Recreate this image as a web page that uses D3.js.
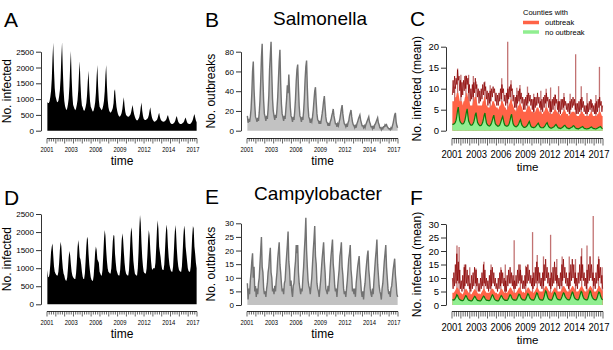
<!DOCTYPE html>
<html><head><meta charset="utf-8">
<script src="https://cdn.jsdelivr.net/npm/d3@7"></script>
<style>body{margin:0;background:#fff}svg{display:block}text{font-family:"Liberation Sans",Arial,Helvetica,sans-serif;fill:#000}</style>
</head><body><svg id="c" width="613" height="350"></svg>
<script>
// ---------- data ----------
const startYear = 2001, endYear = 2018;
const tickYears = [2001, 2003.76, 2006.52, 2009.28, 2012.03, 2014.79, 2017.55];
const tickLabels = ["2001", "2003", "2006", "2009", "2012", "2014", "2017"];
const titles = ["Salmonella", "Campylobacter"];
const panelLetters = ["A", "B", "C", "D", "E", "F"];
const legendTitle = "Counties with";
const legendLabels = ["outbreak", "no outbreak"];

// monthly values, Jan 2001 .. Dec 2017
const salmInfected = [
 900,880,880,930,1070,1260,1640,2300,2780,1920,1350,1100,
 1000,920,900,950,1090,1280,1660,2330,2800,1950,1300,950,
 780,700,650,710,840,1020,1400,2050,2520,1680,1120,820,
 750,690,650,700,810,960,1270,1810,2200,1500,1040,800,
 740,660,620,660,750,880,1130,1580,1900,1320,940,760,
 700,640,600,650,750,900,1190,1710,2080,1410,970,760,
 720,680,650,700,800,950,1240,1760,2080,1420,980,750,
 640,590,570,600,650,720,870,1250,1310,1000,760,620,
 530,470,440,460,500,560,690,900,1055,780,590,500,
 470,450,440,450,480,510,590,720,810,640,520,440,
 380,340,320,340,380,430,550,750,890,640,470,380,
 350,340,340,360,380,420,500,640,740,560,440,360,
 320,290,285,300,320,340,400,500,570,440,360,320,
 300,290,285,290,310,330,370,450,500,400,330,260,
 230,215,210,220,240,270,320,410,465,360,280,240,
 220,215,210,220,240,260,300,370,420,340,270,230,
 220,215,210,230,260,300,360,460,530,420,320,270];

const salmOutbreaks = [
 15,8,12,9,14,22,38,60,70,42,26,14,
 12,9,13,10,18,30,50,74,88,52,30,17,
 14,10,15,12,22,36,62,76,90,58,32,20,
 15,11,16,13,22,34,52,70,82,48,27,17,
 14,10,15,12,22,32,46,38,57,40,24,15,
 13,9,14,11,20,32,50,62,67,44,25,15,
 13,9,14,11,20,33,52,65,71,44,24,14,
 12,8,11,9,14,21,31,40,44,29,17,11,
 10,7,10,7,12,17,23,30,35,24,14,9,
 8,5,8,5,9,11,15,18,22,15,11,7,
 7,4,7,5,9,12,17,22,26,17,11,7,
 6,4,7,4,8,10,15,18,21,14,9,6,
 5,3,6,3,7,9,12,14,16,11,8,5,
 5,3,5,3,6,8,10,12,14,9,7,4,
 4,2,5,2,6,7,9,11,13,8,6,3,
 3,1,3,2,4,4,6,5,6,4,3,2,
 2,1,3,2,5,8,12,16,18,9,5,3];

const salmOutbreakMean = [
 7,7,7,7,8,8,9,9,9,8,7,7,
 7,7,6,7,7,8,8,9,9,8,7,7,
 6,6,6,6,7,7,8,8,8,7,6,6,
 6,6,6,6,6,7,7,8,8,7,6,6,
 5.5,5.5,5.5,5.5,6,6,7,7,7,6.5,6,5.5,
 5.5,5.5,5,5.5,6,6,7,7,7,6.5,6,5.5,
 5.5,5,5,5.5,6,6.5,7,7.5,7.5,6.5,6,5.5,
 5,5,4.5,5,5.5,6,6,6.5,6.5,6,5.5,5,
 4.5,4.5,4.5,4.5,5,5.5,5.5,6,6,5.5,5,4.5,
 4.5,4.5,4,4.5,4.5,5,5.5,5.5,5.5,5,4.5,4.5,
 4.5,4,4,4.5,4.5,5,5.5,5.5,5.5,5,4.5,4.5,
 4,4,4,4,4.5,4.5,5,5,5,4.5,4.5,4,
 4,4,3.5,4,4,4.5,4.5,5,5,4.5,4,4,
 4,3.5,3.5,4,4,4.5,4.5,4.5,4.5,4.5,4,4,
 3.5,3.5,3.5,3.5,4,4,4.5,4.5,4.5,4,4,3.5,
 3.5,3.5,3.5,3.5,3.5,4,4,4.5,4.5,4,3.5,3.5,
 3.5,3.5,3.5,3.5,4,4,4.5,4.5,4.5,4,3.5,3.5];

const salmOutbreakLine = [
 8.5,12,9,13,10,12.5,11,14.5,12,13,9.5,12,
 8,11.5,8.5,12,9.5,13,10,13,11,12.5,9,11,
 7,10,7.5,11,8,11.5,9,12.5,10,11,8,10,
 6.5,9.5,7,10,7.5,11,8.5,11.5,9.5,10.5,7.5,9.5,
 6,9,6.5,9.5,7,10,8,10.5,9,10,7,9,
 6,8.5,6,9,7,10,7.5,11,9,10,7,8.5,
 6,9,6.5,10,7.5,10.5,8,11,9.5,10,7,8.5,
 5.5,8,5.5,8.5,6.5,9.5,7,10,7.5,9,6.5,8,
 5,7.5,5,8,6,8.5,6.5,9,7,8.5,6,7.5,
 5,7.5,4.5,8,5.5,8,6,9,6.5,8,5.5,7,
 5,7.5,4.5,8,5.5,8.5,6.5,9,7,8,5.5,7.5,
 4.5,7,4.5,7.5,5,8,6,8.5,6.5,7.5,5,7,
 4.5,7,4,7.5,5,7.5,5.5,8,6,7,5,6.5,
 4.5,6.5,4,7,5,7.5,5.5,8,6,7.5,5,6.5,
 4,6.5,4,7,4.5,7.5,5,8,5.5,7,4.5,6,
 4,6,4,6.5,4.5,7,5,7.5,5.5,6.5,4.5,6,
 4,6.5,4,7,4.5,7.5,5.5,8,6,7,4.5,6];

const salmNoOutbreak = [
 1.6,1.5,1.6,1.7,2.0,2.5,3.5,4.8,5.6,3.8,2.4,2.0,
 1.8,1.6,1.6,1.7,2.0,2.5,3.4,4.5,5.2,3.6,2.3,1.9,
 1.5,1.3,1.3,1.4,1.7,2.1,2.9,3.8,4.3,3.0,2.0,1.6,
 1.4,1.2,1.2,1.3,1.6,2.0,2.8,3.7,4.2,2.9,1.9,1.5,
 1.3,1.2,1.1,1.2,1.5,1.9,2.5,3.2,3.7,2.6,1.7,1.4,
 1.3,1.1,1.1,1.2,1.4,1.8,2.4,3.0,3.4,2.5,1.7,1.3,
 1.2,1.1,1.1,1.2,1.4,1.8,2.5,3.4,3.9,2.7,1.7,1.3,
 1.1,1.0,0.9,1.0,1.2,1.4,1.8,2.3,2.6,1.9,1.3,1.1,
 0.9,0.8,0.8,0.9,1.0,1.2,1.5,1.9,2.2,1.6,1.1,0.9,
 0.8,0.8,0.7,0.8,0.9,1.1,1.3,1.6,1.8,1.4,1.0,0.8,
 0.7,0.7,0.7,0.7,0.9,1.1,1.4,1.7,1.9,1.4,1.0,0.8,
 0.7,0.6,0.6,0.7,0.8,0.9,1.1,1.3,1.5,1.2,0.9,0.7,
 0.6,0.6,0.5,0.6,0.7,0.8,1.0,1.2,1.3,1.0,0.8,0.6,
 0.6,0.5,0.5,0.6,0.7,0.8,0.9,1.1,1.2,1.0,0.7,0.6,
 0.5,0.5,0.4,0.5,0.6,0.7,0.8,0.9,1.0,0.8,0.6,0.5,
 0.5,0.4,0.4,0.5,0.5,0.6,0.7,0.8,0.9,0.7,0.6,0.5,
 0.5,0.4,0.4,0.5,0.6,0.7,0.8,0.9,1.0,0.8,0.6,0.5];

const salmSpikes = [[2001.3,10.5],[2001.63,14.8],[2002.0,13.3],[2002.57,13.2],[2002.87,13.3],[2003.4,13.0],[2003.7,11.7],[2004.7,11.7],[2005.3,10.8],[2006.6,12.5],[2007.27,21.2],[2007.65,12.0],[2008.3,10.2],[2008.65,10.9],[2009.5,10.5],[2010.2,8.8],[2011.0,9.5],[2011.6,10.0],[2012.1,10.3],[2012.6,8.7],[2013.0,10.6],[2013.6,9.0],[2014.3,8.8],[2014.92,18.2],[2015.55,10.6],[2016.2,9.0],[2016.7,7.3],[2017.2,8.5],[2017.6,15.2]];

const campInfected = [
 950,760,750,850,1100,1450,1600,1680,1350,1050,900,850,
 820,800,800,900,1150,1500,1735,1600,1250,1000,850,800,
 700,660,650,750,1000,1300,1475,1350,1100,900,800,750,
 720,700,700,850,1150,1550,1780,1600,1300,1250,1100,900,
 760,700,700,850,1200,1600,1870,1800,1400,1100,900,750,
 680,650,650,800,1100,1450,1600,1500,1250,1200,1150,900,
 850,800,800,950,1350,1800,2057,1900,1500,1200,1000,900,
 880,850,850,1000,1350,1750,1920,1900,1400,1150,950,880,
 820,800,800,950,1300,1750,1965,1800,1450,1150,950,850,
 820,800,800,950,1350,1850,2130,2000,1550,1200,1000,850,
 820,800,800,1000,1450,2100,2470,2250,1700,1300,1050,900,
 870,850,850,1000,1350,1800,2057,1900,1500,1200,1000,950,
 1000,1000,1000,1150,1550,2050,2330,2100,1600,1450,1300,1100,
 980,950,950,1100,1500,1950,2210,2050,1600,1300,1100,1000,
 930,900,900,1050,1450,1900,2195,2000,1550,1250,1050,950,
 920,900,900,1050,1450,1900,2180,2050,1600,1400,1200,1000,
 920,900,900,1050,1450,1900,2170,2100,1600,1400,1150,1000];

const campOutbreaks = [
 8,2,6,4,9,12,16,19,10,14,5,7,
 3,6,4,8,10,15,20,25,14,12,6,4,
 5,3,6,8,12,14,18,21,12,10,5,6,
 4,7,5,9,12,17,20,23,15,12,8,5,
 6,4,8,9,14,18,22,27,16,13,7,9,
 5,3,7,8,13,16,22,19,22,12,8,6,
 4,6,5,10,14,20,25,32,20,14,9,7,
 6,4,7,10,15,20,24,29,18,15,8,6,
 5,3,6,9,13,17,20,23,16,12,6,5,
 4,7,5,9,14,18,21,24,15,12,7,5,
 6,3,7,10,13,18,20,23,14,11,6,4,
 5,3,6,9,13,17,19,22,13,10,5,6,
 4,6,3,8,11,14,16,18,12,9,5,3,
 5,2,6,8,12,15,18,20,13,10,6,4,
 3,6,4,9,13,17,20,24,15,11,7,5,
 4,2,6,8,12,16,19,22,14,10,6,4,
 5,3,6,7,10,13,15,17,11,8,4,3];

const campOutbreakMean = [
 4.5,4.5,4.5,5,5.5,6,6.5,6.5,6,5.5,5,4.5,
 4.5,4,4,4.5,5,5.5,6,6,5.5,5,4.5,4.5,
 4,4,4,4.5,5,5.5,6,5.5,5.5,5,4.5,4,
 4.5,4,4,4.5,5,5.5,6,6,5.5,5,4.5,4.5,
 4.5,4.5,4.5,5,5.5,6,6,6,5.5,5,4.5,4.5,
 4.5,4,4,4.5,5,5.5,6,6,5.5,5,4.5,4.5,
 4.5,4.5,4.5,5,5.5,6,6.5,6.5,6,5.5,5,4.5,
 4.5,4.5,4.5,5,5.5,6,6.5,6.5,6,5.5,5,4.5,
 5,4.5,4.5,5,5.5,6,6.5,6.5,6,5.5,5,5,
 5,4.5,4.5,5,5.5,6,6.5,6.5,6,5.5,5,5,
 5,5,5,5.5,6,6.5,7,7,6.5,6,5.5,5,
 5,4.5,4.5,5,5.5,6,6.5,6.5,6,5.5,5,5,
 5,5,5,5.5,6,6.5,7,7,6.5,6,5.5,5,
 5,5,5,5.5,6,6.5,7,7,6.5,6,5.5,5,
 5,5,5,5.5,6,6.5,7,7,6.5,6,5.5,5,
 5,5,5,5.5,6,6.5,7,7,6.5,6,5.5,5,
 5,5,5,5.5,6,6.5,7,7,6.5,6,5.5,5];

const campOutbreakLine = [
 10,6,12,7,15,8,19,9,16,8,13,6,
 9,5,11,6,14,7,15,8,13,7,11,6,
 8,5,11,6,12,7,14,8,13,7,10,5,
 8,5,10,6,12,7,15,8,13,7,10,6,
 9,5,11,6,13,7,14,8,12,7,10,6,
 8,5,10,6,12,7,13,8,12,7,10,5,
 9,5,11,7,13,8,14,8,12,7,11,6,
 9,6,11,7,13,8,15,9,13,8,11,6,
 9,6,11,7,14,8,15,9,13,8,11,7,
 10,6,12,7,14,8,16,9,14,8,12,7,
 10,6,12,7,15,9,17,10,14,8,12,7,
 10,6,12,7,14,8,16,9,14,8,11,7,
 10,6,12,7,15,9,17,10,14,8,12,7,
 10,6,12,7,15,9,17,10,15,8,12,7,
 10,6,12,8,15,9,18,10,15,9,12,7,
 10,6,13,8,15,9,18,10,15,9,12,7,
 10,6,12,8,15,9,17,10,14,8,11,6];

const campNoOutbreak = [
 2.0,1.9,1.8,2.0,2.5,3.0,3.8,3.5,2.8,2.3,2.0,1.8,
 1.7,1.6,1.6,1.8,2.3,2.9,3.5,3.3,2.6,2.1,1.8,1.7,
 1.6,1.5,1.5,1.7,2.2,2.7,3.2,3.0,2.4,2.0,1.7,1.6,
 1.6,1.5,1.5,1.8,2.3,2.8,3.3,3.1,2.5,2.1,1.8,1.7,
 1.7,1.6,1.6,1.9,2.5,3.2,3.8,3.5,2.8,2.2,1.9,1.7,
 1.6,1.5,1.5,1.8,2.4,3.0,3.5,3.2,2.6,2.2,2.0,1.7,
 1.8,1.7,1.7,2.0,2.6,3.3,3.8,3.6,2.8,2.3,2.0,1.8,
 1.9,1.8,1.8,2.1,2.7,3.4,4.0,3.8,3.0,2.4,2.1,1.9,
 1.9,1.8,1.8,2.1,2.8,3.5,4.2,3.9,3.0,2.4,2.1,1.9,
 1.9,1.8,1.8,2.2,2.9,3.7,4.5,4.2,3.2,2.5,2.1,1.9,
 1.9,1.8,1.8,2.2,3.1,4.2,5.2,4.8,3.5,2.7,2.2,2.0,
 1.9,1.8,1.8,2.2,3.0,3.8,4.6,4.3,3.3,2.6,2.2,2.0,
 2.0,1.9,1.9,2.3,3.0,3.8,4.5,4.3,3.3,2.8,2.5,2.1,
 2.0,1.9,1.9,2.3,3.1,4.0,4.8,4.5,3.4,2.7,2.3,2.1,
 2.0,1.9,1.9,2.3,3.2,4.2,5.0,4.7,3.5,2.8,2.3,2.1,
 2.0,1.9,1.9,2.3,3.2,4.3,5.2,4.8,3.6,2.9,2.4,2.1,
 2.0,1.9,1.9,2.3,3.1,4.1,4.8,4.6,3.5,2.8,2.2,1.9];

const campSpikes = [[2001.56,22],[2001.8,21.5],[2002.4,15],[2003.0,14],[2003.7,13.5],[2004.6,16],[2005.4,15],[2006.5,14],[2007.0,15],[2008.0,24],[2008.7,15],[2009.3,14.5],[2010.07,27],[2010.6,18.5],[2011.3,18],[2012.1,26],[2012.8,17],[2013.4,18],[2014.2,18],[2014.9,17],[2015.6,21],[2016.2,22],[2016.9,33],[2017.5,18],[2017.9,14]];

// ---------- drawing ----------
const svg = d3.select("#c");
svg.append("rect").attr("width",613).attr("height",350).attr("fill","#fff");
const tOf = i => startYear + (i + 0.5) / 12;

function xAxis(g, x, ya, big) {
  const minor = d3.range(startYear, endYear + 0.001, 0.25);
  const ml = big ? 5 : 3, Ml = big ? 7 : 5;
  g.append("line").attr("x1", x(startYear)).attr("x2", x(endYear)).attr("y1", ya).attr("y2", ya).attr("stroke","#000").attr("stroke-width",0.8);
  g.selectAll("line.t").data(minor).join("line").attr("class","t")
    .attr("x1", d => x(d)).attr("x2", d => x(d)).attr("y1", ya)
    .attr("y2", d => ya + (Math.abs(d - Math.round(d)) < 0.01 ? Ml : ml))
    .attr("stroke","#000").attr("stroke-width",0.6);
  g.selectAll("text.l").data(tickYears).join("text").attr("class","l")
    .attr("x", d => x(d)).attr("y", big ? ya + 19 : ya + 13)
    .attr("text-anchor","middle").attr("font-size", big ? 10 : 7.5)
    .attr("textLength", big ? 21 : 13).attr("lengthAdjust","spacingAndGlyphs")
    .text((d, i) => tickLabels[i]);
  g.append("text").attr("x", (x(startYear) + x(endYear)) / 2).attr("y", big ? ya + 32 : ya + 26)
    .attr("text-anchor","middle").attr("font-size", big ? 11.5 : 12).text("time");
}

function yAxis(g, y, ax, ticks, fs, label, lx) {
  const a = d3.axisLeft(y).tickValues(ticks).tickFormat(d3.format("d")).tickSize(5).tickSizeOuter(0).tickPadding(2);
  const gg = g.append("g").attr("transform", `translate(${ax},0)`).call(a);
  gg.selectAll("text").attr("font-size", fs).attr("font-family", '"Liberation Sans",Arial,sans-serif');
  gg.selectAll("path,line").attr("stroke","#000").attr("stroke-width",0.8);
  const ym = (y(ticks[0]) + y(ticks[ticks.length - 1])) / 2;
  g.append("text").attr("transform", `translate(${lx},${ym}) rotate(-90)`).attr("text-anchor","middle")
    .attr("font-size", 12).text(label);
}

function letter(x, y, s) {
  svg.append("text").attr("x", x).attr("y", y).attr("font-size", 21).text(s);
}

function infectedPanel(vals, L, ticks) {
  const g = svg.append("g");
  const x = d3.scaleLinear([startYear, endYear], [L.x0, L.x1]);
  const y = d3.scaleLinear([0, ticks[ticks.length - 1]], [L.y0, L.yt]);
  g.append("path").datum(vals).attr("fill","#000")
    .attr("d", d3.area().x((d, i) => x(tOf(i))).y0(y(0)).y1(d => y(d)));
  yAxis(g, y, L.ax, ticks, 8, "No. infected", L.lx);
  xAxis(g, x, L.xa, false);
}

function outbreakPanel(vals, L, ticks) {
  const g = svg.append("g");
  const x = d3.scaleLinear([startYear, endYear], [L.x0, L.x1]);
  const y = d3.scaleLinear([0, ticks[ticks.length - 1]], [L.y0, L.yt]);
  g.append("path").datum(vals).attr("fill","#c2c2c2")
    .attr("d", d3.area().x((d, i) => x(tOf(i))).y0(y(0)).y1(d => y(d)));
  g.append("path").datum(vals).attr("fill","none").attr("stroke","#727272").attr("stroke-width",1.4)
    .attr("d", d3.line().x((d, i) => x(tOf(i))).y(d => y(d)));
  yAxis(g, y, L.ax, ticks, 8, "No. outbreaks", L.lx);
  xAxis(g, x, L.xa, false);
}

function meanPanel(mean, line, green, spikes, L, ticks) {
  const g = svg.append("g");
  const x = d3.scaleLinear([startYear, endYear], [L.x0, L.x1]);
  const y = d3.scaleLinear([0, ticks[ticks.length - 1]], [L.y0, L.yt]);
  g.selectAll("line.s").data(spikes).join("line").attr("class","s")
    .attr("x1", d => x(d[0])).attr("x2", d => x(d[0])).attr("y1", y(0)).attr("y2", d => y(d[1]))
    .attr("stroke","#b85a5a").attr("stroke-width",1.3).attr("opacity",0.85);
  g.append("path").datum(line).attr("fill","#ff6347")
    .attr("d", d3.area().x((d, i) => x(tOf(i))).y0(y(0)).y1((d, i) => y(mean[i])));
  g.append("path").datum(line).attr("fill","none").attr("stroke","#8b0000").attr("stroke-width",0.75)
    .attr("d", d3.line().x((d, i) => x(tOf(i))).y(d => y(d)));
  g.append("path").datum(green).attr("fill","#90ee90")
    .attr("d", d3.area().x((d, i) => x(tOf(i))).y0(y(0)).y1(d => y(d)));
  g.append("path").datum(green).attr("fill","none").attr("stroke","#0b7a0b").attr("stroke-width",1.2)
    .attr("d", d3.line().x((d, i) => x(tOf(i))).y(d => y(d)));
  yAxis(g, y, L.ax, ticks, 9.5, "No. infected (mean)", L.lx);
  xAxis(g, x, L.xa, true);
}

infectedPanel(salmInfected, {x0:47, x1:197, y0:130.7, yt:51.7, ax:41, xa:138.5, lx:11}, [0,500,1000,1500,2000,2500]);
outbreakPanel(salmOutbreaks, {x0:247, x1:398, y0:130.7, yt:51.7, ax:241, xa:138.5, lx:215}, [0,20,40,60,80]);
meanPanel(salmOutbreakMean, salmOutbreakLine, salmNoOutbreak, salmSpikes, {x0:452, x1:603, y0:130.7, yt:46.7, ax:446, xa:138.5, lx:421}, [0,5,10,15,20]);
infectedPanel(campInfected, {x0:47, x1:197, y0:304.3, yt:214, ax:41, xa:311.5, lx:11}, [0,500,1000,1500,2000,2500]);
outbreakPanel(campOutbreaks, {x0:247, x1:398, y0:305, yt:223.3, ax:241, xa:311.5, lx:215}, [0,5,10,15,20,25,30]);
meanPanel(campOutbreakMean, campOutbreakLine, campNoOutbreak, campSpikes, {x0:452, x1:603, y0:305, yt:224, ax:446, xa:311.5, lx:421}, [0,5,10,15,20,25,30]);

svg.append("text").attr("x", 320).attr("y", 25).attr("text-anchor","middle").attr("font-size",19).text(titles[0]);
svg.append("text").attr("x", 318).attr("y", 200).attr("text-anchor","middle").attr("font-size",19).text(titles[1]);
const letterPos = [[4,27],[205,27],[410,26],[4,205],[205,204],[410,205]];
panelLetters.forEach((s, i) => letter(letterPos[i][0], letterPos[i][1], s));

const lg = svg.append("g");
lg.append("text").attr("x", 523).attr("y", 15).attr("font-size", 7.5).text(legendTitle);
const lc = ["#ff6347", "#90ee90"];
legendLabels.forEach((s, i) => {
  lg.append("line").attr("x1", 523).attr("x2", 539).attr("y1", 22.5 + i * 9.5).attr("y2", 22.5 + i * 9.5)
    .attr("stroke", lc[i]).attr("stroke-width", 3.5);
  lg.append("text").attr("x", 545).attr("y", 25 + i * 9.5).attr("font-size", 7.5).text(s);
});
</script></body></html>
